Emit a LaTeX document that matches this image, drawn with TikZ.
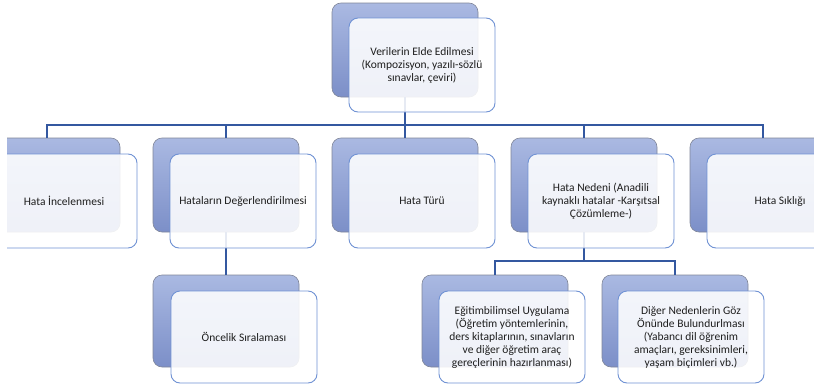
\documentclass[tikz,border=0pt]{standalone}
\usepackage{fontspec}
\setmainfont{Carlito}
\begin{document}
\begin{tikzpicture}[x=1pt,y=-1pt,
  backbox/.style={rectangle, rounded corners=9pt, minimum width=146pt, inner sep=0pt,
    top color={rgb,255:red,170;green,185;blue,226}, bottom color={rgb,255:red,124;green,143;blue,200},
    draw={rgb,255:red,128;green,134;blue,152}, line width=0.6pt},
  frontbox/.style={rectangle, rounded corners=9pt, minimum width=146pt, inner sep=1pt,
    fill=white, fill opacity=0.88, text opacity=1,
    draw={rgb,255:red,112;green,146;blue,212}, draw opacity=1, line width=0.9pt,
    align=center, text={rgb,255:red,30;green,30;blue,30},
    font=\fontsize{11.5}{13}\selectfont},
  conn/.style={draw={rgb,255:red,52;green,88;blue,160}, line width=1.4pt}
]
\useasboundingbox (0,0) rectangle (814,388);
\begin{scope}
\clip (7,0) rectangle (814,388);
\coordinate (barA) at (0,125);
\coordinate (barB) at (0,261);
% back boxes
\node[backbox, minimum height=94pt] (topb) at (405,50) {};
\node[backbox, minimum height=94pt] (ab) at (47,185) {};
\node[backbox, minimum height=94pt] (bb) at (226,185) {};
\node[backbox, minimum height=94pt] (cb) at (405,185) {};
\node[backbox, minimum height=94pt] (db) at (584,185) {};
\node[backbox, minimum height=94pt] (eb) at (763,185) {};
\node[backbox, minimum height=92pt] (fb) at (226,321) {};
\node[backbox, minimum height=92pt] (gb) at (495,321) {};
\node[backbox, minimum height=92pt] (hb) at (675,321) {};
% connectors
\draw[conn] (topb.south) -- (topb.south |- barA);
\draw[conn] (ab.north) -- (ab.north |- barA) -- (eb.north |- barA) -- (eb.north);
\draw[conn] (bb.north) -- (bb.north |- barA);
\draw[conn] (cb.north) -- (cb.north |- barA);
\draw[conn] (db.north) -- (db.north |- barA);
\draw[conn] (bb.south) -- (fb.north);
\draw[conn] (db.south) -- (db.south |- barB);
\draw[conn] (gb.north) -- (gb.north |- barB) -- (hb.north |- barB) -- (hb.north);
% front boxes
\node[frontbox, minimum height=94pt] (topf) at (422,65) {Verilerin Elde Edilmesi\\(Kompozisyon, yazılı-sözlü\\sınavlar, çeviri)};
\node[frontbox, minimum height=94pt] (af) at (64,201) {Hata İncelenmesi};
\node[frontbox, minimum height=94pt] (bf) at (243,201) {Hataların Değerlendirilmesi};
\node[frontbox, minimum height=94pt] (cf) at (422,201) {Hata Türü};
\node[frontbox, minimum height=94pt] (df) at (601,201) {Hata Nedeni (Anadili\\kaynaklı hatalar -Karşıtsal\\Çözümleme-)};
\node[frontbox, minimum height=94pt] (ef) at (780,201) {Hata Sıklığı};
\node[frontbox, minimum height=92pt] (ff) at (244,337) {Öncelik Sıralaması};
\node[frontbox, minimum height=92pt] (gf) at (512,337) {Eğitimbilimsel Uygulama\\(Öğretim yöntemlerinin,\\ders kitaplarının, sınavların\\ve diğer öğretim araç\\gereçlerinin hazırlanması)};
\node[frontbox, minimum height=92pt] (hf) at (691,337) {Diğer Nedenlerin Göz\\Önünde Bulundurlması\\(Yabancı dil öğrenim\\amaçları, gereksinimleri,\\yaşam biçimleri vb.)};
\end{scope}
\end{tikzpicture}
\end{document}
